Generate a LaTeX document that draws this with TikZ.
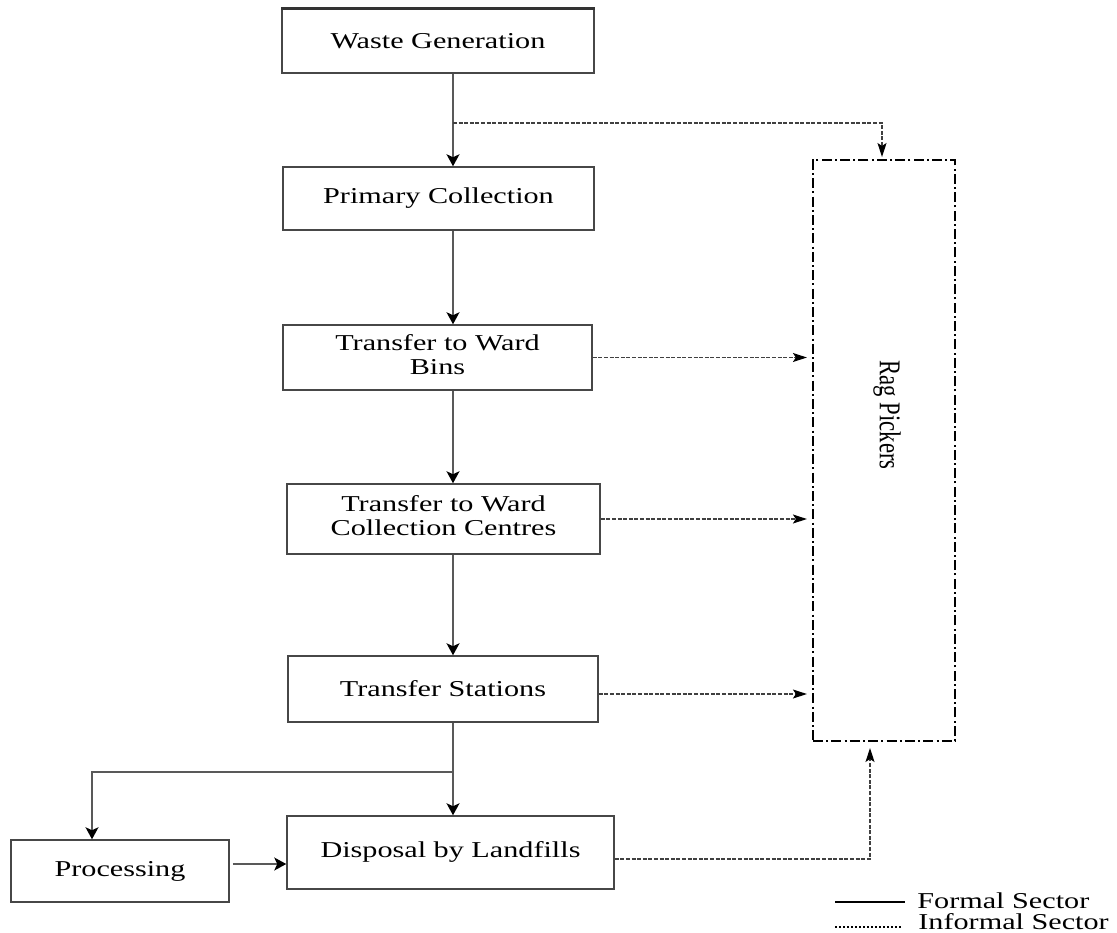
\documentclass[tikz,border=0pt]{standalone}
\usepackage{fontspec}
\setmainfont{Liberation Serif}
\usepackage{graphicx}
\usetikzlibrary{arrows.meta,calc}
\newcommand\sx[1]{\scalebox{1.33}[1]{#1}}
\newcommand\twol[2]{\sx{\begin{tabular}{@{}c@{}}#1\\#2\end{tabular}}}
\begin{document}
\begin{tikzpicture}[x=0.5pt,y=-0.5pt,
  box/.style={draw=black!72,line width=0.75pt,inner sep=0pt,
    font=\fontsize{11.35}{12}\selectfont,align=center},
  flow/.style={draw=black!65,line width=0.8pt,
    -{Stealth[length=6pt,width=6.5pt,inset=1.5pt,color=black]}},
  informal/.style={draw=black!75,line width=0.6pt,dash pattern=on 2pt off 0.8pt,
    -{Stealth[length=7pt,width=4.5pt,inset=1.5pt,color=black]}},
  ragbox/.style={draw=black,line width=1.1pt,dash pattern=on 5pt off 1.6pt on 1pt off 1.6pt,
    inner sep=0pt,font=\fontsize{11.35}{12}\selectfont},
  legendtext/.style={anchor=west,inner sep=0pt,font=\fontsize{11.35}{12}\selectfont}]
\useasboundingbox (0,0) rectangle (1117,932);

% boxes
\node[box,minimum width=156pt,minimum height=32pt] (w) at (438,41) {\sx{Waste Generation}};
\draw[black!80,line width=1.4pt] (w.north west) -- (w.north east);
\node[box,minimum width=155.5pt,minimum height=31.5pt] (p) at (438.5,198.5) {\sx{Primary Collection}};
\node[box,minimum width=154.5pt,minimum height=32.5pt] (wb) at (437.5,357.5) {\twol{Transfer to Ward}{Bins}};
\node[box,minimum width=156.5pt,minimum height=35pt] (cc) at (443.5,519) {\twol{Transfer to Ward}{Collection Centres}};
\node[box,minimum width=155pt,minimum height=33pt] (ts) at (443,689) {\sx{Transfer Stations}};
\node[box,minimum width=163.5pt,minimum height=36.5pt] (d) at (450.5,852.5) {\raisebox{3pt}{\sx{Disposal by Landfills}}};
\node[box,minimum width=109pt,minimum height=31pt] (pr) at (120,871) {\sx{Processing}};
\node[ragbox,minimum width=71pt,minimum height=290.5pt] (rp) at (884,450.5) {};
\node[rotate=-90,inner sep=0pt,font=\fontsize{11.35}{12}\selectfont] (rt) at (887,415) {\scalebox{1}[1.33]{Rag Pickers}};

% helper coordinates
\coordinate (mx) at (453,0);
\coordinate (b1) at (453,123);
\coordinate (br) at (453,772);
\coordinate (bx) at (92,0);
\coordinate (py) at (0,864);
\coordinate (rtop) at (882,160);
\coordinate (rbot) at (870,741);

% formal flow
\draw[flow] (w.south -| mx) -- (p.north -| mx);
\draw[flow] (p.south -| mx) -- (wb.north -| mx);
\draw[flow] (wb.south -| mx) -- (cc.north -| mx);
\draw[flow] (cc.south -| mx) -- (ts.north -| mx);
\draw[flow] (ts.south -| mx) -- (d.north -| mx);
\draw[flow] (br) -| (pr.north -| bx);
\draw[flow] ([xshift=1.5pt]pr.east |- py) -- (d.west |- py);

% informal flow
\draw[informal,shorten >=1.5pt] (b1) -| (rtop);
\draw[informal,shorten >=2.5pt] (wb.east) -- (wb.east -| rp.west);
\draw[informal,shorten >=2.5pt] (cc.east) -- (cc.east -| rp.west);
\draw[informal,shorten >=2.5pt] ($(ts.east)+(0,5)$) -- ($(ts.east -| rp.west)+(0,5)$);
\draw[informal,shorten >=3.5pt] ($(d.east)+(0,6.5)$) -| (rbot);

% legend
\coordinate (l1) at (835,902);
\coordinate (l2) at (835,927);
\draw[black,line width=1pt] (l1) -- ++(70,0);
\draw[black,line width=1pt,dash pattern=on 1pt off 1pt] (l2) -- ++(67,0);
\node[legendtext] (lf) at (917,901) {\sx{Formal Sector}};
\node[legendtext] (li) at (918,922) {\sx{Informal Sector}};
\end{tikzpicture}
\end{document}
